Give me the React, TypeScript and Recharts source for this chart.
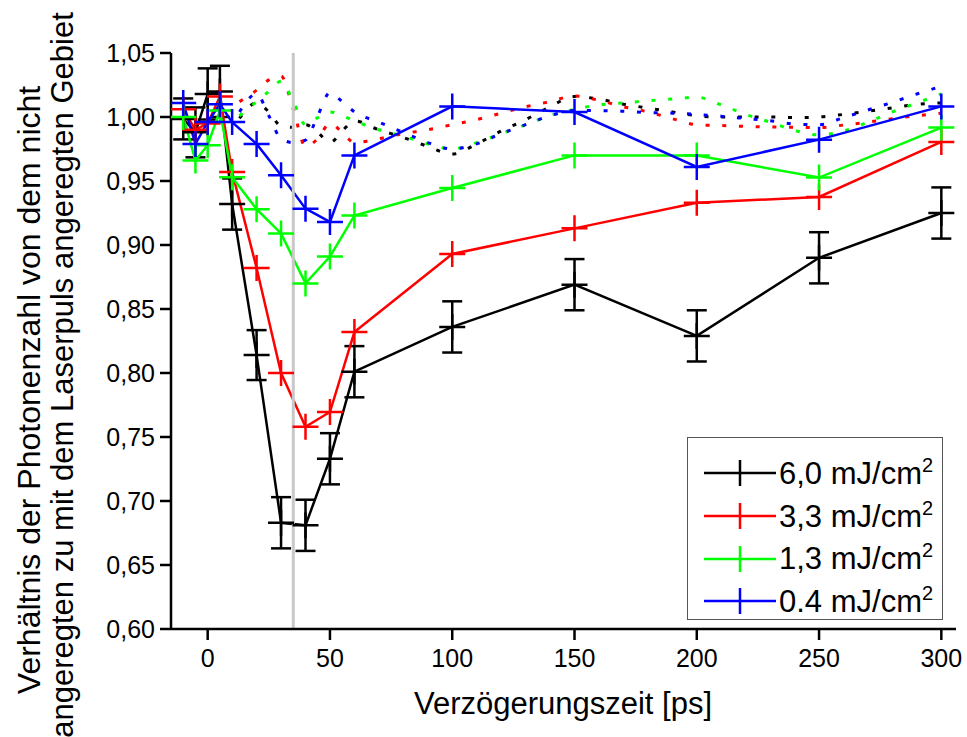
import React from "react";
import { LineChart, Line, XAxis, YAxis, ErrorBar, ReferenceLine, Legend } from "recharts";

// Verzögerungszeit [ps] of the measured points
const DELAY = [-10, -5, 0, 5, 10, 20, 30, 40, 50, 60, 100, 150, 200, 250, 300];
const BLACK = [0.9985, 0.988, 1.018, 1.02, 0.932, 0.814, 0.683, 0.681, 0.733, 0.801, 0.836, 0.869, 0.829, 0.89, 0.925];
const BLACK_ERR = [0.016, 0.0195, 0.02, 0.02, 0.02, 0.0195, 0.02, 0.02, 0.02, 0.02, 0.02, 0.02, 0.02, 0.02, 0.02];
const RED = [1.006, 0.99, 0.995, 1.016, 0.957, 0.882, 0.8, 0.758, 0.7695, 0.832, 0.893, 0.913, 0.933, 0.9375, 0.9805];
const GREEN = [1.0, 0.966, 0.978, 1.005, 0.953, 0.928, 0.909, 0.87, 0.891, 0.923, 0.9445, 0.97, 0.97, 0.9527, 0.9917];
const BLUE = [1.011, 0.979, 0.996, 1.01, 0.996, 0.979, 0.9545, 0.9284, 0.918, 0.97, 1.0083, 1.0039, 0.961, 0.9823, 1.0083];

// dotted reference curves
const DOT_T = [13, 20, 25, 30, 35, 40, 45, 50, 55, 60, 70, 80, 90, 100, 110, 120, 130, 140, 150, 160, 170, 180, 190, 200, 210, 220, 230, 240, 250, 260, 270, 280, 290, 300];
const BLACK_DOT = [0.999, 1.011, 1.004, 0.993, 0.992, 0.994, 0.988, 0.98, 0.989, 0.997, 0.99, 0.984, 0.977, 0.971, 0.979, 0.989, 0.998, 1.008, 1.016, 1.014, 1.01, 1.007, 1.004, 1.001, 1.0, 1.0, 1.0, 0.9995, 1.0, 1.002, 1.0045, 1.0072, 1.0098, 1.011];
const RED_DOT = [1.012, 1.021, 1.029, 1.032, 1.006, 0.977, 0.983, 0.995, 0.988, 0.98, 0.983, 0.987, 0.99, 0.994, 0.998, 1.003, 1.008, 1.012, 1.0165, 1.013, 1.008, 1.004, 0.9987, 0.994, 0.9933, 0.9927, 0.9922, 0.992, 0.9917, 0.9937, 0.996, 0.9987, 1.001, 1.003];
const GREEN_DOT = [1.001, 1.012, 1.02, 1.028, 1.012, 0.994, 0.9995, 1.004, 1.001, 0.997, 0.99, 0.985, 0.979, 0.975, 0.98, 0.987, 0.994, 1.001, 1.006, 1.0095, 1.011, 1.0127, 1.014, 1.0155, 1.0095, 1.002, 0.996, 0.9895, 0.986, 0.989, 0.996, 1.004, 1.011, 1.018];
const BLUE_DOT = [1.004, 1.018, 1.001, 0.983, 0.98, 0.982, 1.001, 1.019, 1.012, 1.004, 0.996, 0.988, 0.98, 0.975, 0.979, 0.987, 0.994, 1.001, 1.005, 1.005, 1.0045, 1.0035, 1.003, 1.002, 1.0005, 0.9988, 0.997, 0.9945, 0.994, 0.9995, 1.0055, 1.0115, 1.018, 1.024];

const MAJOR_X = [0, 50, 100, 150, 200, 250, 300];
const MINOR_X = [25, 75, 125, 175, 225, 275];
const MAJOR_Y = [0.6, 0.65, 0.7, 0.75, 0.8, 0.85, 0.9, 0.95, 1.0, 1.05];
const MINOR_Y = [0.625, 0.675, 0.725, 0.775, 0.825, 0.875, 0.925, 0.975, 1.025];

const LEGEND_LABELS = ["6,0", "3,3", "1,3", "0.4"];
const COLORS = ["#000000", "#ff0000", "#00ff00", "#0000ff"];

const FONT = "'Liberation Sans', Arial, sans-serif";
const X_DOMAIN = [-15, 306];
const Y_DOMAIN = [0.6, 1.05];

const rows = DELAY.map((t, i) => ({
  t,
  black: BLACK[i],
  blackErr: BLACK_ERR[i],
  red: RED[i],
  green: GREEN[i],
  blue: BLUE[i],
}));

const dotRows = DOT_T.map((t, i) => ({
  t,
  black: BLACK_DOT[i],
  red: RED_DOT[i],
  green: GREEN_DOT[i],
  blue: BLUE_DOT[i],
}));

const axisStyle = { stroke: "#000", strokeWidth: 2.5 };

const plusDot = (color: string) => (props: any) => {
  const { cx, cy, index } = props;
  if (cx == null || cy == null) return <g key={`n-${color}-${index}`} />;
  return (
    <path
      key={`p-${color}-${index}`}
      d={`M${cx - 13},${cy}H${cx + 13}M${cx},${cy - 13}V${cy + 13}`}
      stroke={color}
      strokeWidth={2.5}
      fill="none"
    />
  );
};

const XTick = (props: any) => {
  const { x, y, payload } = props;
  return (
    <text x={x} y={y + 25} textAnchor="middle" fontSize={25} fontFamily={FONT} fill="#000">
      {payload.value}
    </text>
  );
};

const YTick = (props: any) => {
  const { x, y, payload } = props;
  return (
    <text x={x - 3} y={y + 9} textAnchor="end" fontSize={25} fontFamily={FONT} fill="#000">
      {payload.value.toFixed(2).replace(".", ",")}
    </text>
  );
};

const renderLegend = () => (
  <div
    style={{
      border: "1.5px solid #555",
      background: "#fff",
      width: 256,
      height: 183,
      boxSizing: "border-box",
      paddingTop: 14,
      fontFamily: FONT,
    }}
  >
    {LEGEND_LABELS.map((lab, i) => (
      <div key={lab} style={{ display: "flex", alignItems: "center", height: 42.7 }}>
        <svg width={88} height={30} style={{ display: "block" }}>
          <line x1={16} x2={88} y1={15} y2={15} stroke={COLORS[i]} strokeWidth={2.5} />
          <line x1={52} x2={52} y1={2} y2={28} stroke={COLORS[i]} strokeWidth={2.5} />
        </svg>
        <span style={{ fontSize: 31, marginLeft: 3, lineHeight: 1, whiteSpace: "nowrap" }}>
          {lab} mJ/cm
          <span style={{ fontSize: 20, position: "relative", top: -12 }}>2</span>
        </span>
      </div>
    ))}
  </div>
);

export default function App() {
  return (
    <div style={{ position: "absolute", left: 0, top: 0, background: "#fff" }}>
      <LineChart
        width={967}
        height={737}
        data={rows}
        margin={{ top: 53, right: 11, left: 0, bottom: 0 }}
      >
        <XAxis xAxisId="xm" type="number" dataKey="t" domain={X_DOMAIN} allowDataOverflow ticks={MINOR_X}
          interval={0} height={0} tickSize={6} tick={false} axisLine={false} tickLine={axisStyle} />
        <XAxis
          xAxisId="x"
          type="number"
          dataKey="t"
          domain={X_DOMAIN}
          allowDataOverflow
          ticks={MAJOR_X}
          interval={0}
          height={108}
          tickSize={11}
          tick={<XTick />}
          axisLine={axisStyle}
          tickLine={axisStyle}
          label={{
            content: () => (
              <text x={563} y={714} textAnchor="middle" fontSize={31} fontFamily={FONT} fill="#000">
                Verzögerungszeit [ps]
              </text>
            ),
          }}
        />
        <XAxis xAxisId="tm" orientation="top" type="number" dataKey="t" domain={X_DOMAIN} allowDataOverflow
          ticks={MINOR_X} interval={0} height={0} tickSize={6} tick={false} axisLine={false} tickLine={axisStyle} />
        <XAxis xAxisId="tx" orientation="top" type="number" dataKey="t" domain={X_DOMAIN} allowDataOverflow
          ticks={MAJOR_X} interval={0} height={0} tickSize={11} tick={false} axisLine={axisStyle} tickLine={axisStyle} />

        <YAxis yAxisId="ym" type="number" domain={Y_DOMAIN} allowDataOverflow ticks={MINOR_Y} interval={0}
          width={0} tickSize={6} tick={false} axisLine={false} tickLine={axisStyle} />
        <YAxis
          yAxisId="y"
          type="number"
          domain={Y_DOMAIN}
          allowDataOverflow
          ticks={MAJOR_Y}
          interval={0}
          width={171}
          tickSize={11}
          tick={<YTick />}
          axisLine={axisStyle}
          tickLine={axisStyle}
          label={{
            content: () => (
              <g fontFamily={FONT} fill="#000" textAnchor="middle">
                <text transform="rotate(-90)" x={-390} y={40} fontSize={32}>
                  Verhältnis der Photonenzahl von dem nicht
                </text>
                <text transform="rotate(-90)" x={-375} y={73} fontSize={31}>
                  angeregten zu mit dem Laserpuls angeregten Gebiet
                </text>
              </g>
            ),
          }}
        />
        <YAxis yAxisId="rm" orientation="right" type="number" domain={Y_DOMAIN} allowDataOverflow ticks={MINOR_Y}
          interval={0} width={0} tickSize={6} tick={false} axisLine={false} tickLine={axisStyle} />
        <YAxis yAxisId="r" orientation="right" type="number" domain={Y_DOMAIN} allowDataOverflow ticks={MAJOR_Y}
          interval={0} width={0} tickSize={11} tick={false} axisLine={axisStyle} tickLine={axisStyle} />

        {(["black", "red", "green", "blue"] as const).map((k, i) => (
          <Line
            key={`dot-${k}`}
            xAxisId="x"
            yAxisId="y"
            data={dotRows}
            dataKey={k}
            type="monotone"
            stroke={COLORS[i]}
            strokeWidth={3}
            strokeDasharray="4 12.7"
            dot={false}
            activeDot={false}
            legendType="none"
            isAnimationActive={false}
          />
        ))}

        <Line xAxisId="x" yAxisId="y" dataKey="black" stroke={COLORS[0]} strokeWidth={2.5} dot={plusDot(COLORS[0])}
          activeDot={false} isAnimationActive={false}>
          <ErrorBar dataKey="blackErr" width={10} strokeWidth={2.5} stroke="#000" direction="y" />
        </Line>
        <Line xAxisId="x" yAxisId="y" dataKey="red" stroke={COLORS[1]} strokeWidth={2.5} dot={plusDot(COLORS[1])}
          activeDot={false} isAnimationActive={false} />
        <Line xAxisId="x" yAxisId="y" dataKey="green" stroke={COLORS[2]} strokeWidth={2.5} dot={plusDot(COLORS[2])}
          activeDot={false} isAnimationActive={false} />
        <Line xAxisId="x" yAxisId="y" dataKey="blue" stroke={COLORS[3]} strokeWidth={2.5} dot={plusDot(COLORS[3])}
          activeDot={false} isAnimationActive={false} />

        <ReferenceLine xAxisId="x" yAxisId="y" x={35} stroke="#c8c8c8" strokeWidth={3} />

        <Legend
          content={renderLegend}
          layout="horizontal"
          verticalAlign="middle"
          align="center"
          wrapperStyle={{ left: 687, top: 437, width: 256, height: 183 }}
        />
      </LineChart>
    </div>
  );
}
